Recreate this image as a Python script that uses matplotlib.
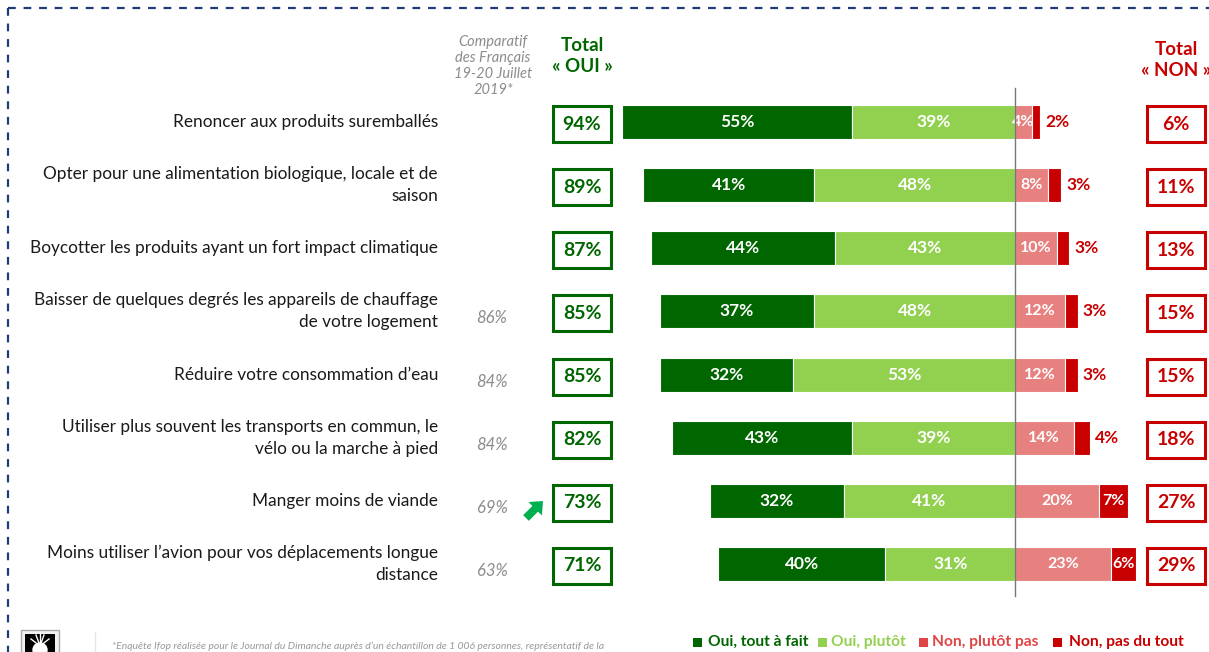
import matplotlib
matplotlib.use("Agg")
import matplotlib.pyplot as plt
from matplotlib.patches import Rectangle, FancyArrow

plt.rcParams['font.family'] = ['Lato', 'DejaVu Sans']

categories = [
    "Renoncer aux produits suremballés",
    "Opter pour une alimentation biologique, locale et de\nsaison",
    "Boycotter les produits ayant un fort impact climatique",
    "Baisser de quelques degrés les appareils de chauffage\nde votre logement",
    "Réduire votre consommation d’eau",
    "Utiliser plus souvent les transports en commun, le\nvélo ou la marche à pied",
    "Manger moins de viande",
    "Moins utiliser l’avion pour vos déplacements longue\ndistance",
]
oui_tout = [55, 41, 44, 37, 32, 43, 32, 40]
oui_plutot = [39, 48, 43, 48, 53, 39, 41, 31]
non_plutot = [4, 8, 10, 12, 12, 14, 20, 23]
non_tout = [2, 3, 3, 3, 3, 4, 7, 6]
total_oui = [94, 89, 87, 85, 85, 82, 73, 71]
total_non = [6, 11, 13, 15, 15, 18, 27, 29]
comparatif = [None, None, None, 86, 84, 84, 69, 63]
legend_labels = ["Oui, tout à fait", "Oui, plutôt", "Non, plutôt pas", "Non, pas du tout"]

C_DG = "#006600"
C_LG = "#92D050"
C_PK = "#E6817F"
C_DR = "#C80000"
C_NAVY = "#1F3C78"
C_GRAY = "#8C8C8C"

W, H = 1209, 652
fig = plt.figure(figsize=(W / 100, H / 100), dpi=100)
fig.patch.set_facecolor("white")

# bar axes: x in percent, 0 at pixel 1015, 4.18 px per %
ppp = 4.18
x0 = 1015
row0, rstep = 122, 63.14
ax = fig.add_axes([0, 0, 1, 1])
ax.set_xlim(-x0 / ppp, (W - x0) / ppp)
ax.set_ylim((H - row0) / rstep, -row0 / rstep)
ax.axis("off")

# overlay axes in pixel coordinates
ov = fig.add_axes([0, 0, 1, 1])
ov.set_xlim(0, W)
ov.set_ylim(H, 0)
ov.axis("off")
ov.patch.set_alpha(0)

n = len(categories)
ys = list(range(n))
bh = 0.54
left_tout = [-(a + b) for a, b in zip(oui_tout, oui_plutot)]
left_pl = [-b for b in oui_plutot]

ax.barh(ys, oui_tout, left=left_tout, height=bh, color=C_DG, edgecolor="white", linewidth=0.8, zorder=2)
ax.barh(ys, oui_plutot, left=left_pl, height=bh, color=C_LG, edgecolor="white", linewidth=0.8, zorder=2)
ax.barh(ys, non_plutot, left=0, height=bh, color=C_PK, edgecolor="white", linewidth=0.8, zorder=2)
ax.barh(ys, non_tout, left=non_plutot, height=bh, color=C_DR, edgecolor="white", linewidth=0.8, zorder=4)

lab_kw = dict(color="white", fontsize=12.5, fontweight="bold", va="center", ha="center")
for i in ys:
    ax.text(left_tout[i] + oui_tout[i] / 2, i, f"{oui_tout[i]}%", zorder=5, **lab_kw)
    ax.text(left_pl[i] + oui_plutot[i] / 2, i, f"{oui_plutot[i]}%", zorder=5, **lab_kw)
    ax.text(non_plutot[i] / 2, i, f"{non_plutot[i]}%", zorder=3,
            **{**lab_kw, "fontsize": 11.5})
    if non_tout[i] >= 5:
        ax.text(non_plutot[i] + non_tout[i] / 2, i, f"{non_tout[i]}%", zorder=5,
                **{**lab_kw, "fontsize": 11.5})
    else:
        ax.text(non_plutot[i] + non_tout[i] + 1.2, i, f"{non_tout[i]}%", zorder=5,
                color=C_DR, fontsize=12.5, fontweight="bold", va="center", ha="left")

# zero line
ax.plot([0, 0], [-0.54, 7.5], color="#777777", lw=1.0, zorder=6)

# category labels
for i, c in enumerate(categories):
    ax.text(-(x0 - 438) / ppp, i, c, ha="right", va="center", fontsize=12.4,
            color="#1a1a1a", linespacing=1.45)

# total boxes
bw, bhh = 58, 36
for i in ys:
    yc = row0 + i * rstep + 2
    ov.add_patch(Rectangle((582 - bw / 2, yc - bhh / 2), bw, bhh, fill=False,
                           edgecolor=C_DG, lw=2.2))
    ov.text(582, yc, f"{total_oui[i]}%", ha="center", va="center", color=C_DG,
            fontsize=14, fontweight="bold")
    ov.add_patch(Rectangle((1176 - bw / 2, yc - bhh / 2), bw, bhh, fill=False,
                           edgecolor=C_DR, lw=2.2))
    ov.text(1176, yc, f"{total_non[i]}%", ha="center", va="center", color=C_DR,
            fontsize=14, fontweight="bold")
    if comparatif[i] is not None:
        ov.text(492, yc + 5, f"{comparatif[i]}%", ha="center", va="center",
                color=C_GRAY, fontsize=12, style="italic")

# headers
ov.text(582, 56, "Total\n« OUI »", ha="center", va="center", color=C_DG,
        fontsize=13.5, fontweight="bold", linespacing=1.25)
ov.text(1176, 60, "Total\n« NON »", ha="center", va="center", color=C_DR,
        fontsize=13.5, fontweight="bold", linespacing=1.25)
ov.text(493, 66, "Comparatif\ndes Français\n19-20 Juillet\n2019*", ha="center",
        va="center", color=C_GRAY, fontsize=10.5, style="italic", linespacing=1.2)

# green arrow
ov.add_patch(FancyArrow(526, 518, 17, -17, width=8, head_width=19, head_length=11,
                        length_includes_head=True, color="#00B050", lw=0))

# dashed frame
ov.plot([8, 8], [8, H], color=C_NAVY, lw=1.6, ls=(0, (3.5, 3.5)))
ov.plot([8, W], [8, 8], color=C_NAVY, lw=1.6, ls=(0, (3.5, 3.5)))

# logo and footnote
ov.add_patch(Rectangle((21, 630), 38, 30, facecolor="#f2f2f2", edgecolor="#aaaaaa", lw=1))
ov.add_patch(Rectangle((25, 634), 30, 25, facecolor="black", lw=0))
ov.add_patch(plt.Circle((40, 650), 7, color="white"))
for dx, dy in [(-9, -7), (-4, -11), (0, -13), (4, -11), (9, -7)]:
    ov.plot([40, 40 + dx], [646, 646 + dy], color="white", lw=1)
ov.plot([95, 95], [632, 652], color="#e6e6e6", lw=1)
ov.text(112, 646, "*Enquête Ifop réalisée pour le Journal du Dimanche auprès d’un échantillon de 1 006 personnes, représentatif de la",
        ha="left", va="center", color="#999999", fontsize=7.5, style="italic")

# legend
leg_colors = [C_DG, C_LG, "#E04545", C_DR]
leg_text_colors = [C_DG, C_LG, "#E04545", C_DR]
leg_sq = [697, 822, 923, 1057]
leg_tx = [708, 831, 932, 1069]
for sx, tx, lc, tc, lt in zip(leg_sq, leg_tx, leg_colors, leg_text_colors, legend_labels):
    ov.add_patch(Rectangle((sx - 4.5, 637.5), 9, 9, color=lc, lw=0))
    ov.text(tx, 642, lt, ha="left", va="center", color=tc, fontsize=11.2,
            fontweight="bold")

fig.savefig("out.png", dpi=100, facecolor="white")
